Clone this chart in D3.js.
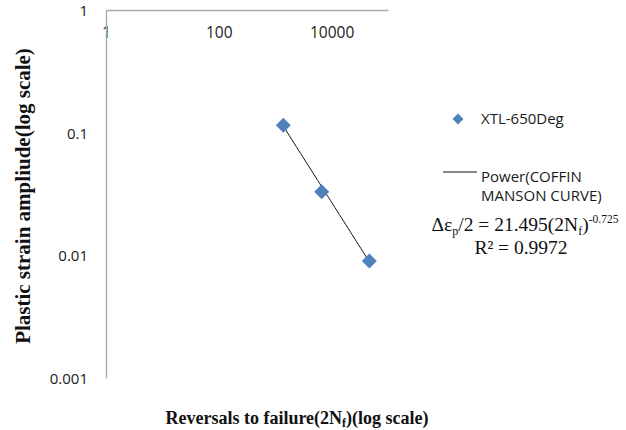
<!DOCTYPE html>
<html>
<head>
<meta charset="utf-8">
<script src="https://cdn.jsdelivr.net/npm/d3@7"></script>
<style>
  html, body { margin: 0; padding: 0; background: #fff; }
  svg { display: block; }
</style>
</head>
<body>
<svg id="chart" width="626" height="430"></svg>
<script>
// Reversals to failure (2Nf) and plastic strain amplitude
const reversals = [1393, 6670, 46600];
const strainAmp = [0.115, 0.033, 0.0090];
const xTicks = [1, 100, 10000];
const yTicks = [1, 0.1, 0.01, 0.001];
// Power fit: Δεp/2 = 21.495 (2Nf)^-0.725
const fitCoef = 21.495;
const fitExp = -0.725;
const fitR2 = "0.9972";
const seriesName = "XTL-650Deg";
const fitName = ["Power(COFFIN", "MANSON CURVE)"];

const svg = d3.select("#chart");
const x = d3.scaleLog().domain([1, 1e5]).range([106, 388]);
const y = d3.scaleLog().domain([0.001, 1]).range([378, 10]);

const tickFont = "'Open Sans', 'Liberation Sans', sans-serif";
const serif = "'Liberation Serif', 'DejaVu Serif', serif";
const ink = "#1a1a1a";

// Top x-axis (at y = 1)
const xAxis = svg.append("g")
  .attr("transform", `translate(0,${y(1)})`)
  .call(d3.axisBottom(x).tickValues(xTicks).tickSize(0).tickFormat(d3.format("d")));
xAxis.select(".domain").attr("stroke", "#a6a6a6").attr("stroke-width", 1.3);
xAxis.selectAll("text").attr("font-family", tickFont).attr("font-size", 15.5)
  .attr("fill", ink).attr("dy", "0.35em").attr("y", 23);

// Left y-axis
const yAxis = svg.append("g")
  .attr("transform", `translate(${x(1)},0)`)
  .call(d3.axisLeft(y).tickValues(yTicks).tickSize(0).tickFormat(d => String(d)));
yAxis.select(".domain").attr("stroke", "#a6a6a6").attr("stroke-width", 1.3);
yAxis.selectAll("text").attr("font-family", tickFont).attr("font-size", 15)
  .attr("fill", ink).attr("x", -18).attr("dy", "0.36em");

// Fitted power curve
const logA = Math.log(reversals[0]), logB = Math.log(reversals[reversals.length - 1]);
const fitX = d3.range(0, 41).map(i => Math.exp(logA + i / 40 * (logB - logA)));
svg.append("path")
  .datum(fitX)
  .attr("fill", "none").attr("stroke", "#111").attr("stroke-width", 1)
  .attr("d", d3.line().x(d => x(d)).y(d => y(fitCoef * Math.pow(d, fitExp))));

// Data markers (diamonds)
svg.selectAll("path.pt")
  .data(reversals)
  .join("path")
  .attr("class", "pt")
  .attr("d", d3.symbol().type(d3.symbolSquare).size(112))
  .attr("transform", (d, i) => `translate(${x(d)},${y(strainAmp[i])}) rotate(45)`)
  .attr("fill", "#4f81bd");

// Legend
svg.append("path")
  .attr("d", d3.symbol().type(d3.symbolSquare).size(60))
  .attr("transform", "translate(458,119) rotate(45)")
  .attr("fill", "#4f81bd");
svg.append("text").attr("x", 481).attr("y", 124)
  .attr("font-family", tickFont).attr("font-size", 15).attr("fill", ink)
  .text(seriesName);
svg.append("line").attr("x1", 443).attr("x2", 477).attr("y1", 172).attr("y2", 172)
  .attr("stroke", "#111").attr("stroke-width", 1);
svg.selectAll("text.fitname").data(fitName).join("text")
  .attr("class", "fitname")
  .attr("x", 481).attr("y", (d, i) => 181.5 + i * 19.5)
  .attr("font-family", tickFont).attr("font-size", 15).attr("fill", ink)
  .text(d => d);

// Equation
const eq = svg.append("text").attr("x", 525).attr("y", 231)
  .attr("text-anchor", "middle").attr("font-family", serif).attr("font-size", 19.5).attr("fill", "#111");
eq.append("tspan").text("Δε");
eq.append("tspan").attr("font-size", 12).attr("dy", 4).text("p");
eq.append("tspan").attr("dy", -4).text("/2 = " + fitCoef + "(2N");
eq.append("tspan").attr("font-size", 12).attr("dy", 4).text("f");
eq.append("tspan").attr("dy", -4).text(")");
eq.append("tspan").attr("font-size", 11.5).attr("dy", -8).text(fitExp.toFixed(3));
svg.append("text").attr("x", 521).attr("y", 254)
  .attr("text-anchor", "middle").attr("font-family", serif).attr("font-size", 19.5).attr("fill", "#111")
  .text("R² = " + fitR2);

// Axis titles
svg.append("text")
  .attr("transform", "translate(30,196) rotate(-90)")
  .attr("text-anchor", "middle").attr("font-family", serif).attr("font-weight", "bold")
  .attr("font-size", 21).attr("fill", "#111")
  .text("Plastic strain ampliude(log scale)");
const xt = svg.append("text").attr("x", 297).attr("y", 424)
  .attr("text-anchor", "middle").attr("font-family", serif).attr("font-weight", "bold")
  .attr("font-size", 18).attr("fill", "#111");
xt.append("tspan").text("Reversals to failure(2N");
xt.append("tspan").attr("font-size", 12).attr("dy", 3).text("f");
xt.append("tspan").attr("dy", -3).text(")(log scale)");
</script>
</body>
</html>
